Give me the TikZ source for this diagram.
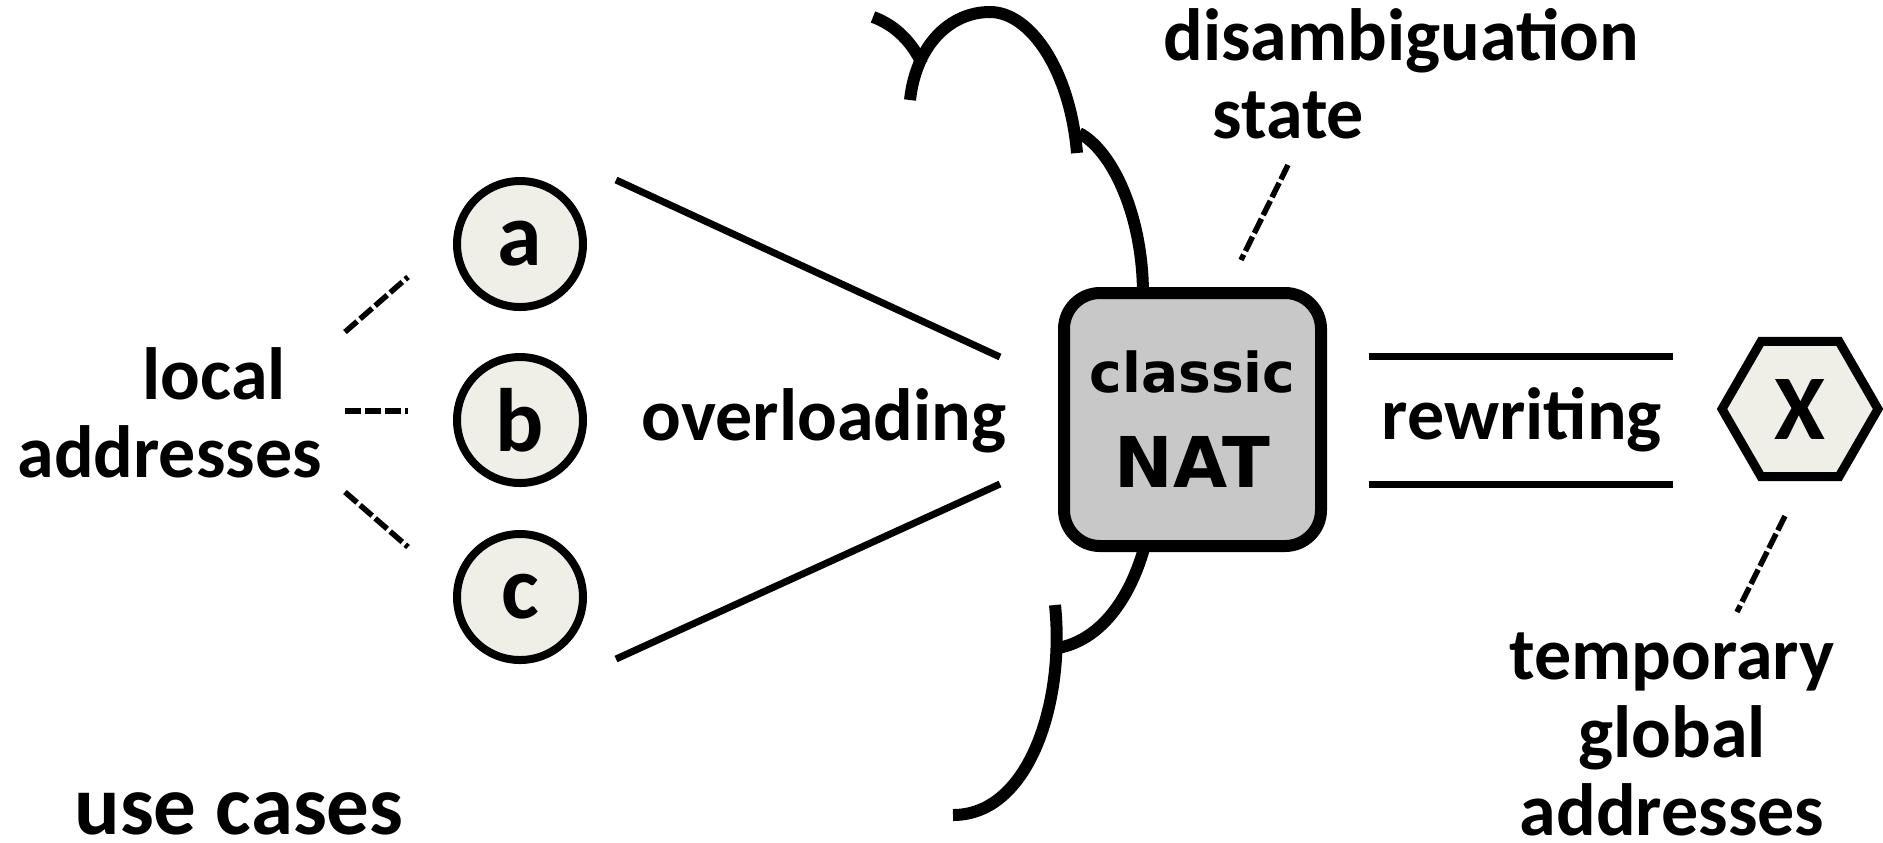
\documentclass[tikz,border=0pt]{standalone}
\usepackage{fontspec}
\setmainfont{Carlito}
\newfontface\natbold{DejaVu Sans Bold}
\usetikzlibrary{shapes.geometric,shadows}
\definecolor{natgray}{HTML}{C8C8C8}
\definecolor{nodefill}{HTML}{EFEFE8}
\begin{document}
\begin{tikzpicture}[x=0.4pt,y=-0.4pt,
  lbl/.style={font=\bfseries\fontsize{29.6pt}{31.2pt}\selectfont, inner sep=0pt},
  usecase/.style={circle, draw, line width=3.2pt, fill=nodefill, minimum size=50.4pt, inner sep=0pt,
    font=\bfseries\fontsize{36pt}{38pt}\selectfont,
    drop shadow={shadow xshift=0.4pt, shadow yshift=-1.2pt, opacity=0.25}},
  natbox/.style={rectangle, rounded corners=14.4pt, draw, line width=4.8pt, fill=natgray,
    minimum width=102.8pt, minimum height=101.2pt, inner sep=0pt, align=center,
    font=\natbold\fontsize{28pt}{38pt}\selectfont},
  hexnode/.style={regular polygon, regular polygon sides=6, draw, line width=3.6pt, fill=nodefill,
    minimum size=62.4pt, inner sep=0pt, font=\bfseries\fontsize{37pt}{38pt}\selectfont,
    drop shadow={shadow xshift=0.4pt, shadow yshift=-1.2pt, opacity=0.25}},
  link/.style={line width=2.8pt},
  cloudline/.style={line width=4.8pt},
  dashlink/.style={line width=2.2pt, dash pattern=on 6.4pt off 1.6pt}
]
\useasboundingbox (0,0) rectangle (1883,842);

% cloud fragments
\draw[cloudline] (873,17) .. controls (895,25) and (912,42) .. (922,64);
\draw[cloudline] (910,100) .. controls (916,45) and (950,12) .. (990,12)
  .. controls (1030,12) and (1070,70) .. (1077,153);
\draw[cloudline] (1079,133) .. controls (1112,150) and (1143,215) .. (1143,295);
\draw[cloudline] (1145,545) .. controls (1130,600) and (1100,640) .. (1058,648);
\draw[cloudline] (1055,605) .. controls (1065,700) and (1030,815) .. (953,815);

% nodes
\node[usecase] (a) at (520,244) {a};
\node[usecase] (b) at (520,420) {b};
\node[usecase] (c) at (520,597) {c};
\node[natbox] (nat) at (1192.5,419.5) {{\fontsize{22pt}{38pt}\selectfont classic}\\NAT};
\node[hexnode] (x) at (1800,409) {X};

% labels (base = baseline of the last line)
\node[lbl, anchor=base west, align=left] (local) at (17,477) {\hspace*{50pt}local\\addresses};
\node[lbl, anchor=base] (over) at (824,440) {overloading};
\node[lbl, anchor=base] (rew) at (1522,439) {rewriting};
\node[lbl, anchor=base west, align=left] (dis) at (1163,138) {disambiguation\\\hspace*{19.6pt}state};
\node[lbl, anchor=base, align=center] (temp) at (1672,835) {temporary\\global\\addresses};
\node[lbl, anchor=base, font=\bfseries\fontsize{34pt}{36pt}\selectfont] (use) at (239,834) {use cases};

% connector coordinates
\coordinate (la1) at (616,180); \coordinate (la2) at (1000,357);
\coordinate (lc1) at (616,659); \coordinate (lc2) at (1000,484);
\coordinate (r1a) at (1369,356); \coordinate (r1b) at (1673,356);
\coordinate (r2a) at (1369,484); \coordinate (r2b) at (1673,484);
\coordinate (da1) at (345,332); \coordinate (da2) at (408,277);
\coordinate (db1) at (345,411); \coordinate (db2) at (408,411);
\coordinate (dc1) at (345,492); \coordinate (dc2) at (408,547);
\coordinate (ds1) at (1288,165); \coordinate (ds2) at (1241,260);
\coordinate (dt1) at (1785,516); \coordinate (dt2) at (1737,612);

\draw[link] (la1) -- (la2);
\draw[link] (lc1) -- (lc2);
\draw[link] (r1a) -- (r1b);
\draw[link] (r2a) -- (r2b);
\draw[dashlink] (da1) -- (da2);
\draw[dashlink] (db1) -- (db2);
\draw[dashlink] (dc1) -- (dc2);
\draw[dashlink] (ds1) -- (ds2);
\draw[dashlink] (dt1) -- (dt2);
\end{tikzpicture}
\end{document}
